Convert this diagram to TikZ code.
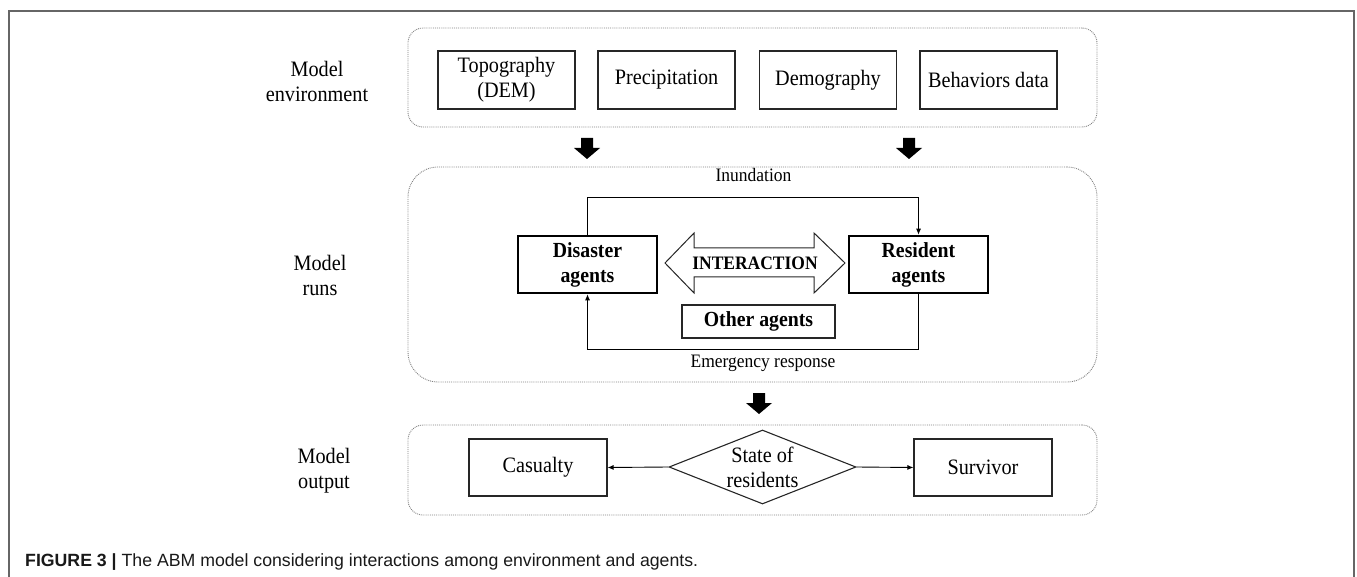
\documentclass[tikz,border=0pt]{standalone}
\usepackage{fontspec}
\setmainfont{Liberation Serif}[FakeStretch=0.92]
\newfontfamily\capfont{Liberation Sans}
\usetikzlibrary{arrows.meta,shapes.geometric}
\tikzset{
  cont/.style={draw=gray, densely dotted, line width=0.9pt, rectangle, inner sep=0pt},
  databox/.style={draw=black!85, line width=1.1pt, rectangle, minimum width=137pt, minimum height=58pt, inner sep=0pt, align=center, font=\fontsize{22}{25}\selectfont},
  agentbox/.style={draw=black, line width=2.6pt, rectangle, minimum width=139pt, minimum height=57pt, inner sep=0pt, align=center, font=\bfseries\fontsize{21.5}{25}\selectfont},
  sidelbl/.style={align=center, font=\fontsize{22}{25}\selectfont},
  edgelbl/.style={font=\fontsize{19}{22}\selectfont},
  thin arrow/.style={line width=0.9pt, -{Latex[length=6pt,width=5pt]}},
  bigarrow/.pic={\fill[black] (-6,0) -- (6,0) -- (6,10) -- (13,10) -- (0,21) -- (-13,10) -- (-6,10) -- cycle;}
}
\begin{document}
\begin{tikzpicture}[x=1pt,y=-1pt]
\useasboundingbox (0,0) rectangle (1357,577);
% outer frame
\draw[black!60, line width=1.5pt] (9,577) -- (9,11) -- (1354,11) -- (1354,577);

% containers
\node[cont, rounded corners=15pt, minimum width=689pt, minimum height=99pt] (env) at (752.5,77.5) {};
\node[cont, rounded corners=30pt, minimum width=689pt, minimum height=215pt] (runs) at (752.5,274.5) {};
\node[cont, rounded corners=15pt, minimum width=689pt, minimum height=90pt] (out) at (752.5,470) {};

% side labels
\node[sidelbl] (lenv) at (317,81) {Model\\environment};
\node[sidelbl] (lruns) at (320,275) {Model\\runs};
\node[sidelbl] (lout) at (324,471) {Model\\output};

% environment boxes
\node[databox] (topo) at (506.5,80) {Topography\\(DEM)};
\node[databox] (prec) at (666.5,80) {Precipitation};
\node[databox] (demo) at (828,80) {Demography};
\node[databox] (behav) at (988.5,80) {Behaviors data};

% big arrows
\pic at (587,138) {bigarrow};
\pic at (909,138) {bigarrow};
\pic at (759,393) {bigarrow};

% agents
\node[agentbox] (dis) at (587.5,264.5) {Disaster\\agents};
\node[agentbox] (res) at (918.5,264.5) {Resident\\agents};
\node[draw=black!85, line width=1.5pt, minimum width=153pt, minimum height=33pt, inner sep=0pt, font=\bfseries\fontsize{21.5}{24}\selectfont] (other) at (758.5,321.5) {Other agents};

% interaction double arrow
\draw[line width=1pt, black!85] (665,263) -- (694,233) -- (694,248) -- (814,248) -- (814,233) -- (845,263) -- (814,293) -- (814,277) -- (694,277) -- (694,293) -- cycle;
\node[font=\bfseries\fontsize{19}{22}\selectfont] (inter) at (755,263) {INTERACTION};

% loops
\draw[thin arrow] (dis.north) -- ++(0,-37) -| (res.north);
\node[edgelbl] (linun) at (753.5,175.5) {Inundation};
\draw[thin arrow] (res.south) -- ++(0,55) -| (dis.south);
\node[edgelbl] (lemer) at (763,363) {Emergency response};

% output
\node[databox, minimum width=138pt, minimum height=57pt] (cas) at (538,467.5) {Casualty};
\node[databox, minimum width=138pt, minimum height=57pt] (sur) at (983,467.5) {Survivor};
\node[diamond, draw=black!85, line width=1.1pt, minimum width=187pt, minimum height=74pt, inner sep=0pt] (st) at (762.5,467) {};
\node[sidelbl] (sttxt) at (st.center) {State of\\residents};
\draw[thin arrow] (st.west) -- (cas.east);
\draw[thin arrow] (st.east) -- (sur.west);

% caption
\node[anchor=west, inner sep=0pt, font=\capfont\fontsize{17.7}{20}\selectfont, text=black!90] (cap) at (25,562) {\textbf{FIGURE 3 |} The ABM model considering interactions among environment and agents.};
\end{tikzpicture}
\end{document}
